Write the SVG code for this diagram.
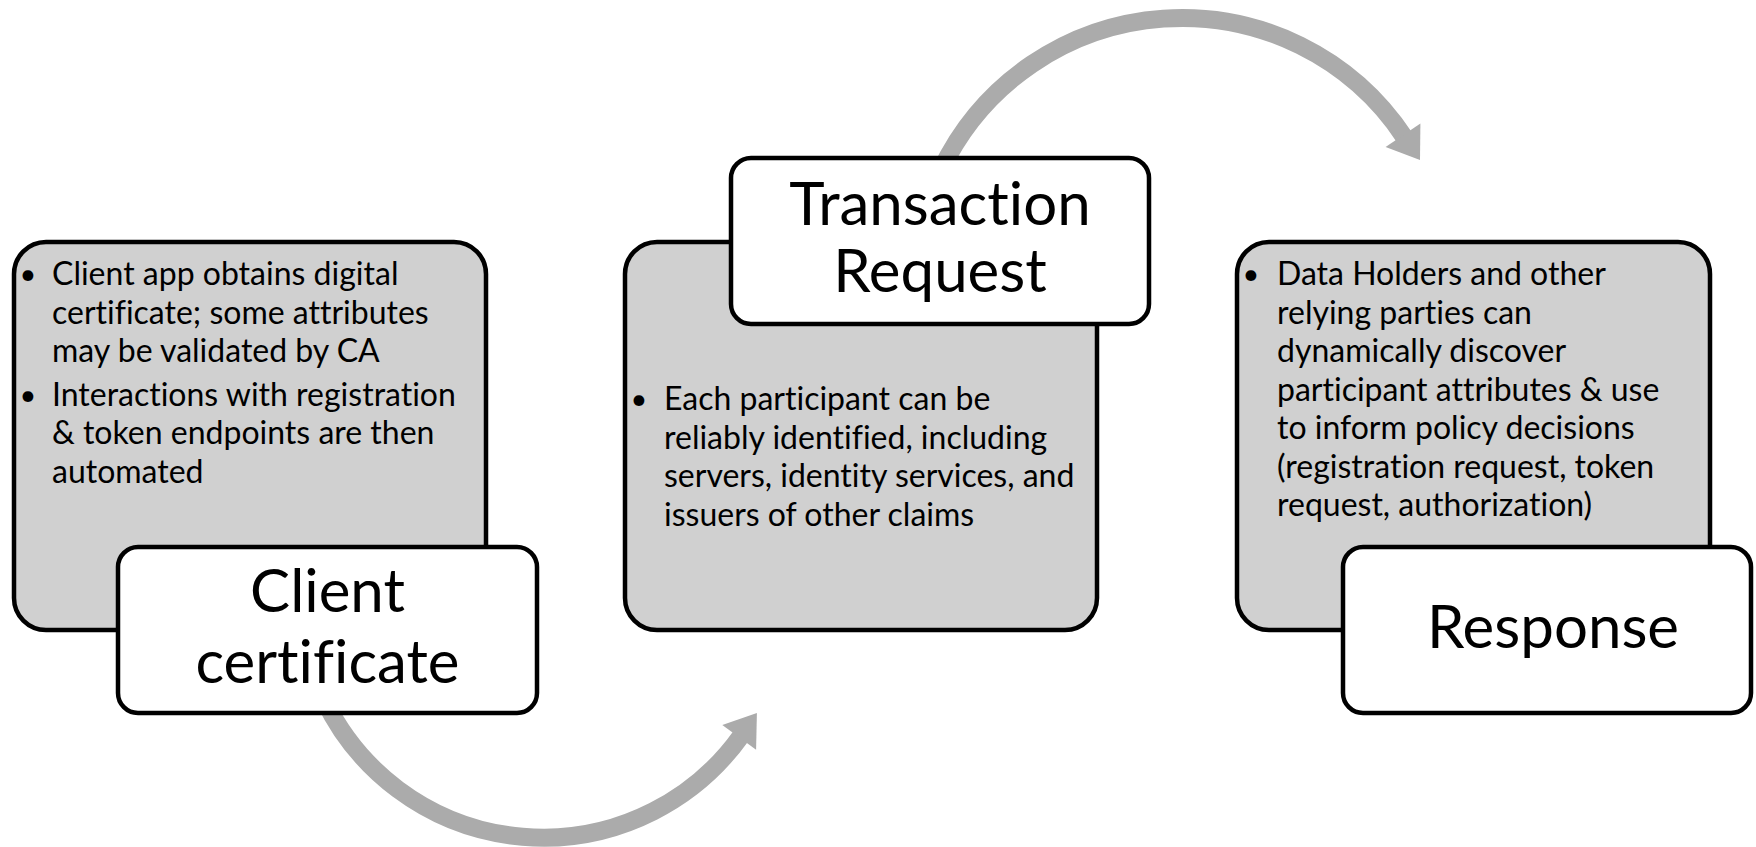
<svg xmlns="http://www.w3.org/2000/svg" width="1756" height="847" viewBox="0 0 1756 847">
  <style>
    .panel { fill: #d0d0d0; stroke: #000; stroke-width: 4.5; }
    .title-box { fill: #fff; stroke: #000; stroke-width: 4.5; }
    .body { font-family: Lato, "Open Sans", "Liberation Sans", sans-serif; font-size: 32px; fill: #000; font-variant-ligatures: none; }
    .title { font-family: Lato, "Open Sans", "Liberation Sans", sans-serif; font-size: 60px; fill: #000; text-anchor: middle; font-variant-ligatures: none; }
    .bullet { text-anchor: middle; font-size: 29px; }
    .arc { fill: none; stroke: #ababab; stroke-width: 18; }
    .head { fill: #ababab; }
  </style>
  <rect width="1756" height="847" fill="#fff"/>

  <!-- curved flow arrows, drawn underneath the boxes -->
  <g id="connectors">
    <path class="arc" d="M 324.3 700 A 243 243 0 0 0 741 735.9"/>
    <polygon class="head" points="756.9,713.1 756.1,749.7 722.3,724.9"/>
    <path class="arc" d="M 941 170 A 267 267 0 0 1 1404.7 137.7"/>
    <polygon class="head" points="1420,160 1420.4,123.5 1385.6,146.9"/>
  </g>

  <!-- step 1 -->
  <g id="client-certificate">
    <rect class="panel" x="14" y="242" width="472" height="388" rx="32"/>
    <text class="body bullet" x="28" y="284">•</text>
    <text class="body" x="52" y="285">Client app obtains digital</text>
    <text class="body" x="52" y="323.5">certificate; some attributes</text>
    <text class="body" x="52" y="362">may be validated by CA</text>
    <text class="body bullet" x="28" y="404.5">•</text>
    <text class="body" x="52" y="405.5">Interactions with registration</text>
    <text class="body" x="52" y="444">&amp; token endpoints are then</text>
    <text class="body" x="52" y="482.5">automated</text>
    <rect class="title-box" x="118" y="547" width="419" height="166" rx="20"/>
    <text class="title" x="327.5" y="612">Client</text>
    <text class="title" x="327.5" y="683">certificate</text>
  </g>

  <!-- step 2 -->
  <g id="transaction-request">
    <rect class="panel" x="625" y="242" width="472" height="388" rx="32"/>
    <text class="body bullet" x="639" y="409">•</text>
    <text class="body" x="664" y="410">Each participant can be</text>
    <text class="body" x="664" y="448.5">reliably identified, including</text>
    <text class="body" x="664" y="487">servers, identity services, and</text>
    <text class="body" x="664" y="525.5">issuers of other claims</text>
    <rect class="title-box" x="731" y="158" width="418" height="166" rx="20"/>
    <text class="title" x="940" y="225">Transaction</text>
    <text class="title" x="940" y="292">Request</text>
  </g>

  <!-- step 3 -->
  <g id="response">
    <rect class="panel" x="1237" y="242" width="473" height="388" rx="32"/>
    <text class="body bullet" x="1251" y="284">•</text>
    <text class="body" x="1277" y="285">Data Holders and other</text>
    <text class="body" x="1277" y="323.5">relying parties can</text>
    <text class="body" x="1277" y="362">dynamically discover</text>
    <text class="body" x="1277" y="400.5">participant attributes &amp; use</text>
    <text class="body" x="1277" y="439">to inform policy decisions</text>
    <text class="body" x="1277" y="477.5">(registration request, token</text>
    <text class="body" x="1277" y="516">request, authorization)</text>
    <rect class="title-box" x="1343" y="547" width="408" height="166" rx="20"/>
    <text class="title" x="1553" y="648">Response</text>
  </g>
</svg>
